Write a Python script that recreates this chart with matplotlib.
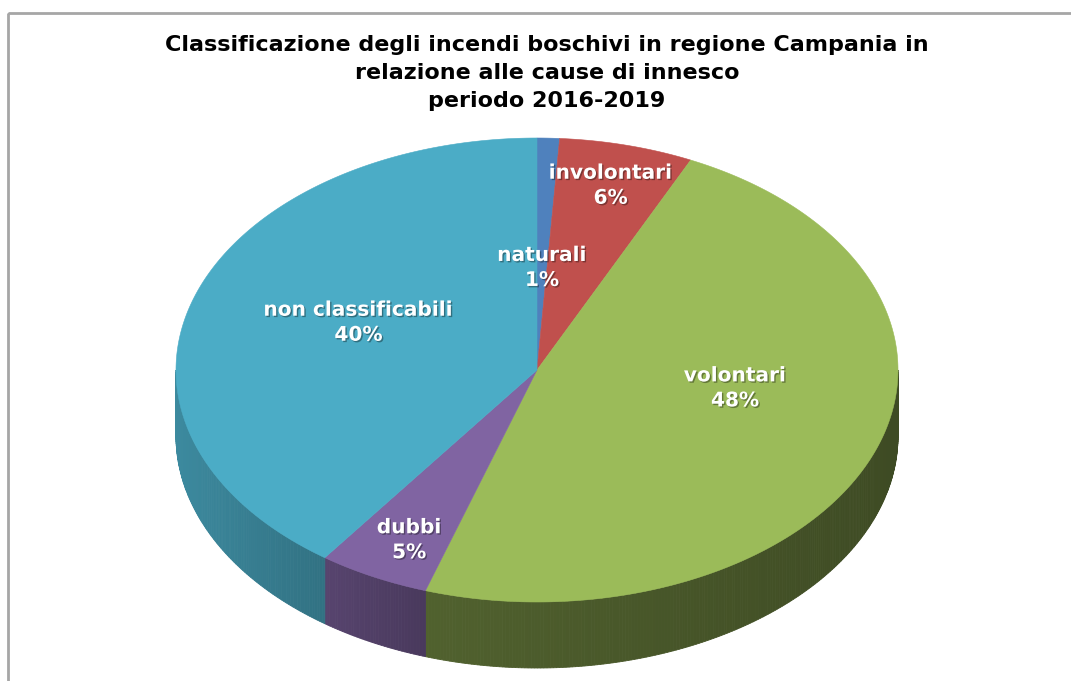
import numpy as np
import matplotlib
matplotlib.use("Agg")
import matplotlib.pyplot as plt
from matplotlib.patches import Polygon, Rectangle
import matplotlib.patheffects as pe
from matplotlib.colors import to_rgb

# ---- data ----
categories = ["naturali", "involontari", "volontari", "dubbi", "non classificabili"]
values = [1, 6, 48, 5, 40]
title_lines = ["Classificazione degli incendi boschivi in regione Campania in",
               "relazione alle cause di innesco",
               "periodo 2016-2019"]

# ---- style ----
colors = ["#4F81BD", "#C0504D", "#9BBB59", "#8064A2", "#4BACC6"]
side_shade = [(0.75, 0.6), (0.7, 0.55), (0.52, 0.4), (0.68, 0.57), (0.8, 0.66)]
label_r = [0.44, 0.82, 0.59, 0.78, 0.52]
label_dy = [0, 0, -32, 9, -10]

W, H = 1071, 681
cx, cy, a, b, depth = 537, 370, 361, 232, 66

fig = plt.figure(figsize=(W / 100, H / 100), dpi=100)
ax = fig.add_axes([0, 0, 1, 1])
ax.set_xlim(0, W)
ax.set_ylim(H, 0)
ax.axis("off")

# frame
ax.add_patch(Rectangle((8, 13), W, H, fill=False, edgecolor="#A6A6A6", lw=2))

vals = np.array(values, dtype=float)
frac = vals / vals.sum()
starts = np.concatenate([[0], np.cumsum(frac)[:-1]]) * 360.0
ends = np.cumsum(frac) * 360.0


def pt(theta_deg, dy=0.0):
    t = np.radians(theta_deg)
    return cx + a * np.sin(t), cy - b * np.cos(t) + dy


# sides (front half: 90..270 deg clockwise from top)
for i in range(len(values)):
    s, e = max(starts[i], 90), min(ends[i], 270)
    if e <= s:
        continue
    base = np.array(to_rgb(colors[i]))
    x0, _ = pt(s)
    x1, _ = pt(e)
    xmin, xmax = min(x0, x1), max(x0, x1)
    n = max(int((e - s) * 2), 2)
    th = np.linspace(s, e, n + 1)
    for k in range(n):
        t0, t1 = th[k], th[k + 1]
        p0, p1 = pt(t0), pt(t1)
        xm = (p0[0] + p1[0]) / 2
        u = (xm - xmin) / (xmax - xmin) if xmax > xmin else 0
        f = side_shade[i][0] + (side_shade[i][1] - side_shade[i][0]) * u
        c = np.clip(base * f, 0, 1)
        poly = [pt(t0), pt(t1), pt(t1, depth), pt(t0, depth)]
        ax.add_patch(Polygon(poly, closed=True, facecolor=c, edgecolor=c, lw=0.6))

# tops
for i in range(len(values)):
    th = np.linspace(starts[i], ends[i], max(int((ends[i] - starts[i]) * 2), 2) + 1)
    poly = [(cx, cy)] + [pt(t) for t in th]
    ax.add_patch(Polygon(poly, closed=True, facecolor=colors[i], edgecolor=colors[i], lw=0.4))

# labels
for i in range(len(values)):
    mid = (starts[i] + ends[i]) / 2
    t = np.radians(mid)
    x = cx + a * label_r[i] * np.sin(t)
    y = cy - b * label_r[i] * np.cos(t) + label_dy[i]
    txt = f"{categories[i]}\n{values[i]}%"
    ax.text(x, y, txt, ha="center", va="center", color="white", fontsize=14.5,
            fontweight="bold", family="DejaVu Sans", linespacing=1.4,
            path_effects=[pe.withSimplePatchShadow(offset=(1, -1), shadow_rgbFace="black", alpha=0.35)])

# title
for j, line in enumerate(title_lines):
    ax.text(547, 45 + 28 * j, line, ha="center", va="center", color="black",
            fontsize=16, fontweight="bold", family="DejaVu Sans")

fig.savefig("out.png", dpi=100, facecolor="white")
